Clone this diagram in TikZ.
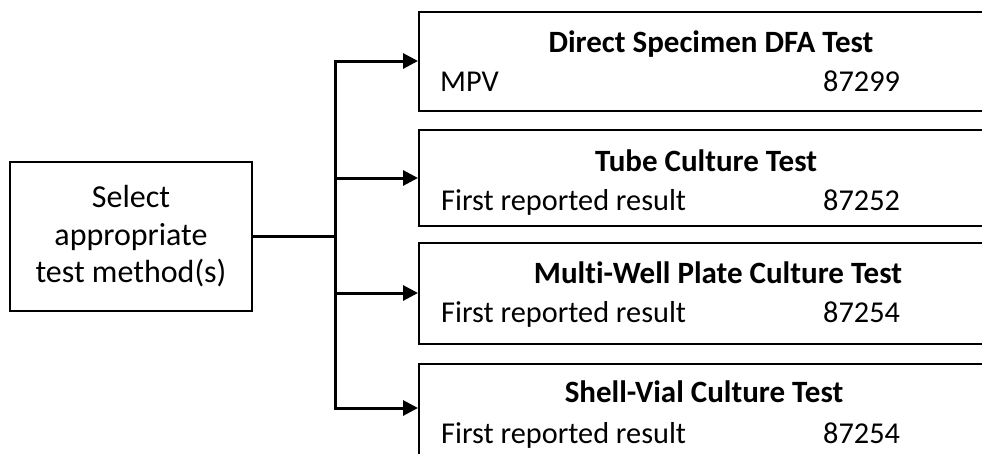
\documentclass[tikz,border=0pt]{standalone}
\usepackage{fontspec}
\setmainfont{Carlito}[Ligatures=NoCommon]
\usetikzlibrary{arrows.meta}
\begin{document}
\begin{tikzpicture}[x=1pt,y=-1pt,
  box/.style={draw, line width=2.3pt, anchor=north west, minimum width=590pt, inner sep=0pt},
  selbox/.style={draw, line width=2.3pt, minimum width=242pt, minimum height=149pt, inner sep=0pt, align=center, font=\fontsize{32}{37.5}\selectfont},
  ttl/.style={font=\fontsize{31}{36}\selectfont\bfseries, anchor=base, inner sep=0pt},
  rowtxt/.style={font=\fontsize{30.3}{36}\selectfont, anchor=base west, inner sep=0pt},
  conn/.style={line width=3pt},
  arr/.style={conn, -{Triangle[length=15pt,width=15pt]}}]
\useasboundingbox (0,0) rectangle (982,453);
\begin{scope}
\clip (0,0) rectangle (982,453);
\node[box, minimum height=99pt] (b1) at (418,11) {};
\node[box, minimum height=96pt] (b2) at (418,129) {};
\node[box, minimum height=101pt] (b3) at (418,242) {};
\node[box, minimum height=107pt] (b4) at (418,363) {};
\end{scope}
\node[ttl] (h1) at (711,52) {Direct Specimen DFA Test};
\node[rowtxt] (a1) at (440,91) {MPV};
\node[rowtxt] (c1) at (823,91) {87299};
\node[ttl] (h2) at (706,171) {Tube Culture Test};
\node[rowtxt] (a2) at (441,210) {First reported result};
\node[rowtxt] (c2) at (823,210) {87252};
\node[ttl] (h3) at (718,283) {Multi-Well Plate Culture Test};
\node[rowtxt] (a3) at (441,322) {First reported result};
\node[rowtxt] (c3) at (823,322) {87254};
\node[ttl] (h4) at (704,402) {Shell-Vial Culture Test};
\node[rowtxt] (a4) at (441,443) {First reported result};
\node[rowtxt] (c4) at (823,443) {87254};
\node[selbox] (sel) at (131,236.5) {Select\\appropriate\\test method(s)};
\coordinate (j1) at (335,61);
\coordinate (j2) at (335,178);
\coordinate (j3) at (335,293);
\coordinate (j4) at (335,408);
\draw[conn, line cap=rect] (j1) -- (j4);
\draw[conn] (sel.east) -- (sel.east -| j1);
\draw[arr] (j1) -- (j1 -| b1.west);
\draw[arr] (j2) -- (j2 -| b2.west);
\draw[arr] (j3) -- (j3 -| b3.west);
\draw[arr] (j4) -- (j4 -| b4.west);
\end{tikzpicture}
\end{document}
